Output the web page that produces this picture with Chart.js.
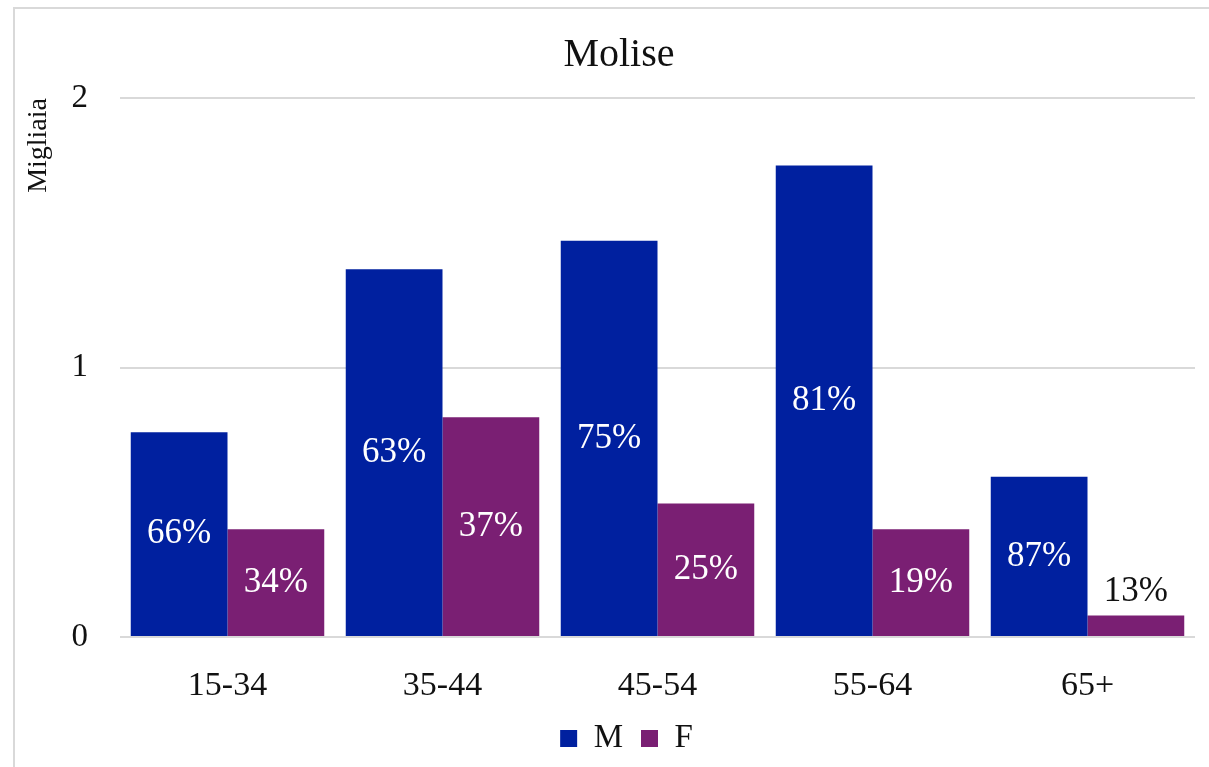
<!DOCTYPE html>
<html>
<head>
<meta charset="utf-8">
<script src="https://cdn.jsdelivr.net/npm/chart.js@4"></script>
<style>
  html, body { margin: 0; padding: 0; background: #fff; }
  #wrap { position: relative; width: 1209px; height: 767px; }
</style>
</head>
<body>
<div id="wrap"><canvas id="chart" width="1209" height="767"></canvas></div>
<script>
// ── Data ──
const categories = ['15-34', '35-44', '45-54', '55-64', '65+'];
const maleValues = [0.76, 1.365, 1.47, 1.75, 0.595];
const femaleValues = [0.40, 0.815, 0.495, 0.40, 0.08];
const maleShares = ['66%', '63%', '75%', '81%', '87%'];
const femaleShares = ['34%', '37%', '25%', '19%', '13%'];
const yTicks = [0, 1, 2];

const FONT = "'Liberation Serif', 'DejaVu Serif', serif";
const BLUE = '#00209F';
const PURPLE = '#7A1F73';
const TEXT = '#111111';

// ── Frame + title drawn on canvas ──
const framePlugin = {
    id: 'frame',
    afterLayout(chart) {
        // legend in the reference sits a little right of the canvas centre
        if (chart.legend) {
            chart.legend.left += 22;
            chart.legend.right += 22;
        }
    },
    beforeDraw(chart) {
        const ctx = chart.ctx;
        ctx.save();
        ctx.fillStyle = '#d9d9d9';
        ctx.fillRect(13, 7, chart.width, 2);
        ctx.fillRect(13, 7, 2, chart.height);
        ctx.restore();
    },
    afterDraw(chart) {
        const ctx = chart.ctx;
        ctx.save();
        ctx.font = `40px ${FONT}`;
        ctx.fillStyle = TEXT;
        ctx.textAlign = 'center';
        ctx.textBaseline = 'middle';
        ctx.fillText('Molise', 619, 55);
        ctx.restore();
    }
};

// ── Percentage labels inside / above bars ──
const shareLabels = [maleShares, femaleShares];
const labelPlugin = {
    id: 'shareLabels',
    afterDatasetsDraw(chart) {
        const ctx = chart.ctx;
        ctx.save();
        ctx.font = `35px ${FONT}`;
        ctx.textAlign = 'center';
        ctx.textBaseline = 'middle';
        chart.data.datasets.forEach((ds, di) => {
            chart.getDatasetMeta(di).data.forEach((bar, i) => {
                const h = bar.base - bar.y;
                const text = shareLabels[di][i];
                if (h < 45) {
                    ctx.fillStyle = TEXT;
                    ctx.fillText(text, bar.x, bar.y - 24);
                } else {
                    ctx.fillStyle = '#ffffff';
                    ctx.fillText(text, bar.x, (bar.y + bar.base) / 2);
                }
            });
        });
        ctx.restore();
    }
};

new Chart(document.getElementById('chart'), {
    type: 'bar',
    data: {
        labels: categories,
        datasets: [
            { label: 'M', data: maleValues, backgroundColor: BLUE },
            { label: 'F', data: femaleValues, backgroundColor: PURPLE }
        ]
    },
    options: {
        responsive: false,
        animation: false,
        devicePixelRatio: 1,
        layout: { padding: { left: 14, right: 14, top: 98, bottom: 2 } },
        datasets: { bar: { categoryPercentage: 0.9, barPercentage: 1.0 } },
        plugins: {
            title: { display: false },
            tooltip: { enabled: false },
            legend: {
                position: 'bottom',
                labels: {
                    font: { size: 33, family: FONT },
                    color: TEXT,
                    boxWidth: 17,
                    boxHeight: 17,
                    padding: 18
                }
            }
        },
        scales: {
            x: {
                grid: { display: false },
                border: { display: false },
                ticks: {
                    font: { size: 34, family: FONT },
                    color: TEXT,
                    padding: 21
                },
                afterFit(scale) { scale.height = 67; }
            },
            y: {
                min: 0,
                max: 2,
                afterBuildTicks(scale) {
                    scale.ticks = yTicks.map(v => ({ value: v }));
                },
                grid: { color: '#d9d9d9', lineWidth: 2, drawTicks: false },
                border: { display: false },
                ticks: {
                    font: { size: 33, family: FONT },
                    color: TEXT,
                    padding: 32
                },
                title: {
                    display: true,
                    text: 'Migliaia',
                    align: 'end',
                    font: { size: 28, family: FONT },
                    color: TEXT,
                    padding: { top: 8, bottom: 0 }
                },
                afterFit(scale) { scale.width = 106; }
            }
        }
    },
    plugins: [framePlugin, labelPlugin]
});
</script>
</body>
</html>
